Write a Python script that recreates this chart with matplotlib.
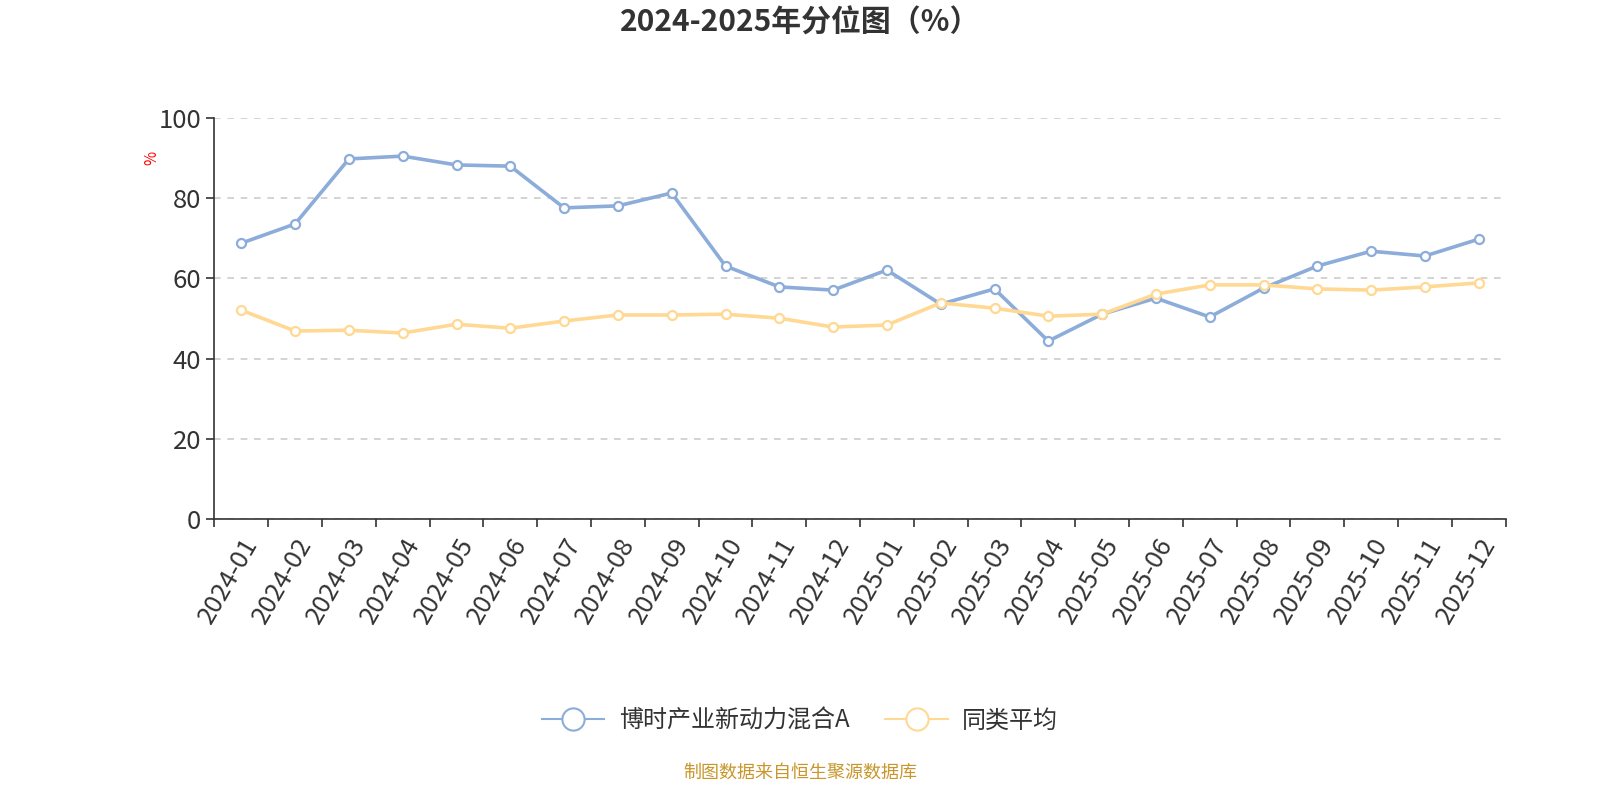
import matplotlib
matplotlib.use("Agg")
import matplotlib.pyplot as plt
from matplotlib.ticker import FixedLocator

plt.rcParams['font.family'] = ['Noto Sans CJK SC', 'DejaVu Sans']

# 数据
months = ["2024-01", "2024-02", "2024-03", "2024-04", "2024-05", "2024-06",
          "2024-07", "2024-08", "2024-09", "2024-10", "2024-11", "2024-12",
          "2025-01", "2025-02", "2025-03", "2025-04", "2025-05", "2025-06",
          "2025-07", "2025-08", "2025-09", "2025-10", "2025-11", "2025-12"]
fund = [68.8, 73.6, 89.8, 90.5, 88.3, 88.0, 77.6, 78.1, 81.3, 63.1, 57.9, 57.1,
        62.1, 53.6, 57.4, 44.4, 51.1, 55.1, 50.4, 57.6, 63.1, 66.8, 65.6, 69.8]
peer = [52.1, 46.9, 47.1, 46.4, 48.6, 47.6, 49.4, 50.9, 50.9, 51.1, 50.1, 47.9,
        48.4, 53.9, 52.6, 50.6, 51.1, 56.1, 58.4, 58.4, 57.4, 57.1, 57.9, 58.9]
fund_name = "博时产业新动力混合A"
peer_name = "同类平均"

blue = "#8cacd9"
yellow = "#ffd993"

fig = plt.figure(figsize=(16, 8), dpi=100)
ax = fig.add_axes([0.134, 0.351, 0.807, 0.5015])

x = list(range(len(months)))
ax.plot(x, fund, color=blue, lw=2.6, marker='o', ms=6.5, mfc='white',
        mec=blue, mew=1.6, zorder=3)
ax.plot(x, peer, color=yellow, lw=2.6, marker='o', ms=6.5, mfc='white',
        mec=yellow, mew=1.6, zorder=3)

ax.set_xlim(-0.5, len(months) - 0.5)
ax.set_ylim(0, 100)
ax.set_yticks([0, 20, 40, 60, 80, 100])
ax.yaxis.grid(True, linestyle=(0, (4, 4)), color="#cccccc", lw=1.2)
ax.set_axisbelow(True)

ax.set_xticks(x)
ax.set_xticklabels(months, rotation=60, ha='right', rotation_mode='anchor')
ax.xaxis.set_minor_locator(FixedLocator([i - 0.5 for i in range(len(months) + 1)]))
ax.tick_params(axis='x', which='major', length=0, pad=10, labelsize=18.5, labelcolor="#333333")
ax.tick_params(axis='x', which='minor', length=6, width=1.2, color="#333333")
ax.tick_params(axis='y', length=6, width=1.2, labelsize=18.5, labelcolor="#333333", color="#333333")

for s in ['top', 'right']:
    ax.spines[s].set_visible(False)
ax.spines['left'].set_color("#333333")
ax.spines['bottom'].set_color("#333333")
ax.spines['left'].set_linewidth(1.2)
ax.spines['bottom'].set_linewidth(1.2)

fig.text(0.095, 0.802, "%", color="red", fontsize=11, rotation=90, ha='center', va='center')

fig.text(0.5, 0.972, "2024-2025年分位图（%）", ha='center', va='center',
         fontsize=21.5, fontweight='bold', color="#333333")

h1, = ax.plot([], [], color=blue, lw=1.5, marker='o', ms=16, mfc='white', mec=blue, mew=1.5)
h2, = ax.plot([], [], color=yellow, lw=1.5, marker='o', ms=16, mfc='white', mec=yellow, mew=1.5)
leg = fig.legend([h1, h2], [fund_name, peer_name], loc='center',
                 bbox_to_anchor=(0.5, 0.099), ncol=2, frameon=False,
                 fontsize=17.3, handlelength=2.6, columnspacing=1.5, handletextpad=0.6)
for t in leg.get_texts():
    t.set_color("#333333")

fig.text(0.5, 0.034, "制图数据来自恒生聚源数据库", ha='center', va='center',
         fontsize=13, color="#c8962a")

fig.savefig("out.png", dpi=100)
